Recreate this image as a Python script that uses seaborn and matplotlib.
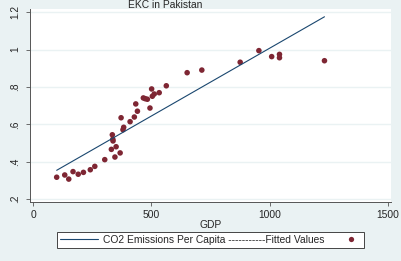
import numpy as np
import pandas as pd
import matplotlib
matplotlib.use("Agg")
import matplotlib.pyplot as plt
import seaborn as sns
from matplotlib.lines import Line2D
from matplotlib.legend_handler import HandlerLine2D

# data
gdp = [100, 134, 151, 169, 191, 213, 242, 261, 303, 331,
       335, 337, 338, 346, 351, 368, 372, 380, 383, 410,
       428, 434, 441, 466, 474, 483, 494, 501, 504, 512,
       533, 563, 651, 713, 875, 954, 1008, 1041, 1041, 1231]
co2 = [0.317, 0.329, 0.307, 0.347, 0.333, 0.343, 0.357, 0.375, 0.411, 0.466,
       0.544, 0.520, 0.511, 0.425, 0.480, 0.447, 0.635, 0.571, 0.584, 0.614,
       0.639, 0.709, 0.670, 0.741, 0.737, 0.734, 0.687, 0.789, 0.750, 0.762,
       0.769, 0.806, 0.876, 0.890, 0.932, 0.994, 0.962, 0.974, 0.956, 0.940]
fit_gdp = [100, 1231]
fit_co2 = [0.354, 1.175]

x_ticks = [0, 500, 1000, 1500]
y_ticks = [0.2, 0.4, 0.6, 0.8, 1.0, 1.2]
y_labels = [".2", ".4", ".6", ".8", "1", "1.2"]

df = pd.DataFrame({"GDP": gdp, "CO2": co2})
fit = pd.DataFrame({"GDP": fit_gdp, "CO2": fit_co2})

sns.set_style("white")
plt.rcParams["font.family"] = ["Liberation Sans", "DejaVu Sans"]

bg = "#eaf2f3"
navy = "#1a476f"
maroon = "#7e2633"
fs = 7.4


class RightMarkerHandler(HandlerLine2D):
    # single legend dot sits in the middle of xdata, so shift xdata right
    def get_xdata(self, legend, xdescent, ydescent, width, height, fontsize):
        xdata = [-xdescent + 0.75 * width, -xdescent + width]
        return xdata, [-xdescent + 0.875 * width]


fig = plt.figure(figsize=(4.02, 2.61), dpi=100, facecolor=bg)
ax = fig.add_axes([30 / 402, 1 - 202 / 261, 361 / 402, 193 / 261])
ax.set_facecolor("white")

sns.lineplot(data=fit, x="GDP", y="CO2", ax=ax, color=navy, lw=0.8)
sns.scatterplot(data=df, x="GDP", y="CO2", ax=ax, color=maroon, s=16,
                edgecolor="none")

ax.set_xlim(-12.7, 1512)
ax.set_ylim(0.1845, 1.2166)
ax.set_xticks(x_ticks)
ax.set_xticklabels([str(t) for t in x_ticks], fontsize=fs)
ax.set_yticks(y_ticks)
ax.set_yticklabels(y_labels, fontsize=fs, rotation=90, va="center")
ax.tick_params(axis="both", length=3, width=0.6, color="#555555",
               direction="out", left=True, bottom=True)
ax.tick_params(axis="y", pad=4)
ax.tick_params(axis="x", pad=2.5)
ax.yaxis.grid(True, color=bg, lw=1)
ax.xaxis.grid(False)
for s in ["top", "right"]:
    ax.spines[s].set_visible(False)
for s in ["left", "bottom"]:
    ax.spines[s].set_color("#555555")
    ax.spines[s].set_linewidth(0.7)

ax.set_xlabel("GDP", fontsize=fs, labelpad=0)
ax.set_ylabel("")
fig.text(165 / 402, 1 - 0.3 / 261, "EKC in Pakistan", ha="center", va="top",
         fontsize=fs)

line_h = Line2D([], [], color=navy, lw=0.8)
dot_h = Line2D([], [], color=maroon, marker="o", ls="none", markersize=3.8,
               markeredgewidth=0)
labels = ["CO2 Emissions Per Capita -----------Fitted Values", ""]
leg = fig.legend([line_h, dot_h], labels, ncol=2, mode="expand",
                 bbox_to_anchor=(57 / 402, 1 - 248 / 261, 307 / 402, 17 / 261),
                 loc="lower left", fontsize=fs, frameon=True, fancybox=False,
                 borderaxespad=0, handlelength=3.7, handletextpad=0.5,
                 borderpad=0.3, columnspacing=1.0,
                 handler_map={dot_h: RightMarkerHandler()})
leg.get_frame().set_edgecolor("#444444")
leg.get_frame().set_linewidth(0.7)
leg.get_frame().set_facecolor("white")
leg.get_frame().set_alpha(1)

fig.savefig("out.png", dpi=100, facecolor=bg)
